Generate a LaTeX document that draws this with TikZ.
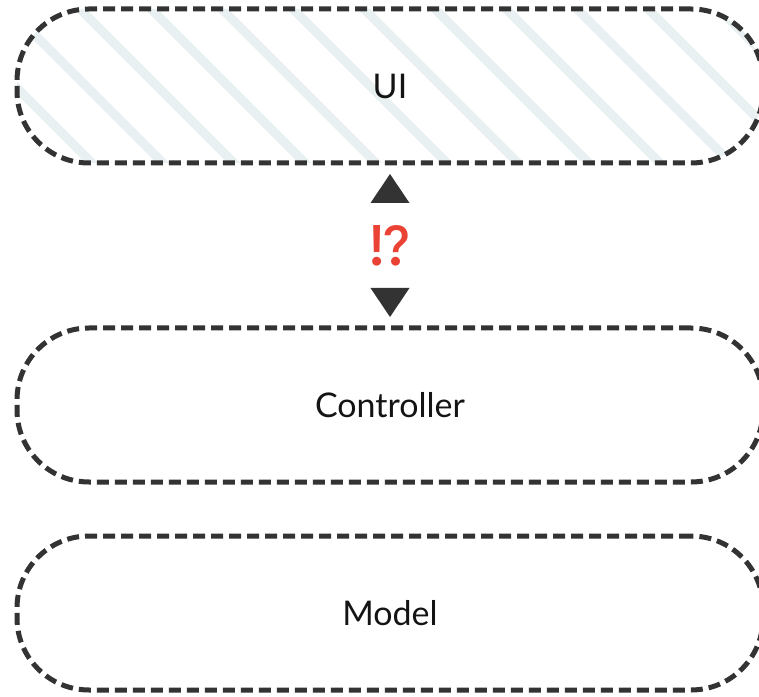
\documentclass[tikz,border=0pt]{standalone}
\usepackage{fontspec}
\setmainfont{Lato}
\newfontfamily\emojifont{Noto Emoji}
\definecolor{layerdark}{RGB}{51, 51, 51}
\definecolor{hatchblue}{RGB}{233, 240, 242}
\definecolor{alarmred}{RGB}{234, 67, 53}
\usetikzlibrary{positioning, calc, patterns.meta}

\begin{document}
\begin{tikzpicture}[x=1pt, y=1pt,
    layer/.style={draw=layerdark, line width=5pt, dash pattern=on 12pt off 6pt,
      rounded corners=72pt, minimum width=746pt, minimum height=154pt,
      outer sep=0pt, inner sep=0pt, text=black!92,
      font=\fontsize{34}{40}\selectfont},
    tri/.style={fill=layerdark}]
  \useasboundingbox (0,0) rectangle (759,696);

  % Hatching behind the UI layer
  \path[pattern={Lines[angle=-45, distance=50.2pt, line width=9pt, xshift=57pt]},
    pattern color=hatchblue, rounded corners=72pt] (17,533) rectangle (763,687);

  % Layers
  \node[layer] (ui) at (390,610) {UI};
  \node[layer, below=165pt of ui] (controller) {Controller};
  \node[layer, below=54pt of controller] (model) {Model};

  % Unclear link between UI and controller
  \node[font=\emojifont\fontsize{40}{40}\selectfont, text=alarmred, inner sep=0pt]
    (unclear) at ($(ui.south)!0.5!(controller.north)$) {⁉};
  \fill[tri] ([yshift=-11pt]ui.south) -- ++(19.5,-29) -- ++(-39,0) -- cycle;
  \fill[tri] ([yshift=11pt]controller.north) -- ++(19.5,29) -- ++(-39,0) -- cycle;
\end{tikzpicture}
\end{document}
